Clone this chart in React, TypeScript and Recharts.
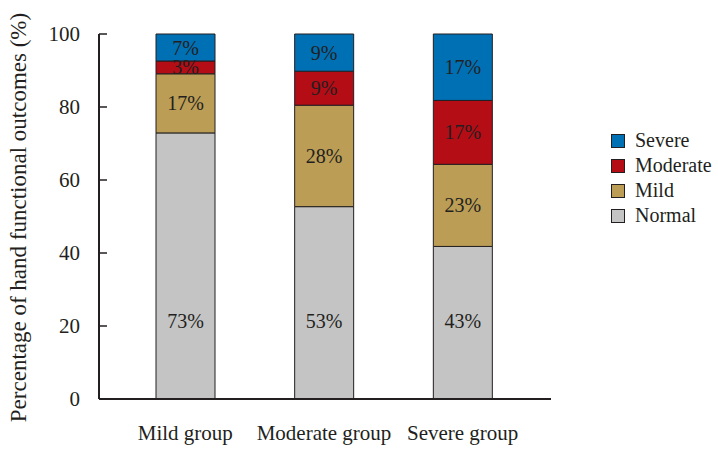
import { BarChart, Bar, XAxis, YAxis, Legend, LabelList } from "recharts";

const categories = ["Mild group", "Moderate group", "Severe group"];
const normal = [72.9, 52.7, 41.8];
const mild = [16.2, 27.8, 22.5];
const moderate = [3.5, 9.3, 17.5];
const severe = [7.4, 10.2, 18.2];

const normalLabels = ["73%", "53%", "43%"];
const mildLabels = ["17%", "28%", "23%"];
const moderateLabels = ["3%", "9%", "17%"];
const severeLabels = ["7%", "9%", "17%"];

const yTicks = [0, 20, 40, 60, 80, 100];

const COLORS = {
  severe: "#0070b5",
  moderate: "#b50d16",
  mild: "#bb9d55",
  normal: "#c4c4c4",
};

const INK = "#231f20";
const FONT = "'Liberation Serif', 'DejaVu Serif', serif";

const data = categories.map((name, i) => ({
  name,
  normal: normal[i],
  mild: mild[i],
  moderate: moderate[i],
  severe: severe[i],
  normalLabel: normalLabels[i],
  mildLabel: mildLabels[i],
  moderateLabel: moderateLabels[i],
  severeLabel: severeLabels[i],
}));

const legendItems = [
  { key: "severe", label: "Severe" },
  { key: "moderate", label: "Moderate" },
  { key: "mild", label: "Mild" },
  { key: "normal", label: "Normal" },
];

const LegendBox = () => (
  <div style={{ fontFamily: FONT, fontSize: 20, color: INK, textAlign: "left" }}>
    {legendItems.map((it) => (
      <div key={it.key} style={{ display: "flex", alignItems: "center", height: 25 }}>
        <span
          style={{
            display: "inline-block",
            width: 12,
            height: 12,
            background: COLORS[it.key as keyof typeof COLORS],
            border: `1px solid ${INK}`,
            marginRight: 10,
          }}
        />
        {it.label}
      </div>
    ))}
  </div>
);

const YLabel = ({ viewBox }: any) => {
  const cx = viewBox.x + 18;
  const cy = viewBox.y + viewBox.height / 2 + 1;
  return (
    <text
      x={cx}
      y={cy}
      transform={`rotate(-90, ${cx}, ${cy})`}
      textAnchor="middle"
      dominantBaseline="central"
      fill={INK}
      fontSize={23}
      fontFamily={FONT}
    >
      Percentage of hand functional outcomes (%)
    </text>
  );
};

const series = [
  { key: "normal", label: "normalLabel" },
  { key: "mild", label: "mildLabel" },
  { key: "moderate", label: "moderateLabel" },
  { key: "severe", label: "severeLabel" },
];

export default function App() {
  return (
    <div style={{ position: "absolute", left: 0, top: 0, background: "#fff" }}>
      <BarChart
        width={718}
        height={450}
        data={data}
        margin={{ top: 34, right: 167, bottom: 0, left: 0 }}
        style={{ fontFamily: FONT }}
      >
        <XAxis
          dataKey="name"
          height={51}
          padding={{ left: 17, right: 19 }}
          tickLine={false}
          tickSize={0}
          tickMargin={26}
          interval={0}
          axisLine={{ stroke: INK, strokeWidth: 2 }}
          tick={{ fill: INK, fontSize: 21, fontFamily: FONT }}
        />
        <YAxis
          width={99}
          domain={[0, 100]}
          ticks={yTicks}
          interval={0}
          tickSize={-8}
          tickMargin={27}
          axisLine={{ stroke: INK, strokeWidth: 2 }}
          tickLine={{ stroke: INK, strokeWidth: 1.5 }}
          tick={{ fill: INK, fontSize: 21, fontFamily: FONT }}
          label={<YLabel />}
        />
        <Legend
          layout="vertical"
          align="center"
          verticalAlign="middle"
          wrapperStyle={{ left: 611, top: 128, width: 110 }}
          content={<LegendBox />}
        />
        {series.map((s) => (
          <Bar
            key={s.key}
            dataKey={s.key}
            stackId="a"
            barSize={59}
            fill={COLORS[s.key as keyof typeof COLORS]}
            stroke={INK}
            strokeWidth={1}
            isAnimationActive={false}
          >
            {s.key === "normal" ? (
              <LabelList
                dataKey={s.label}
                position="insideBottom"
                offset={71}
                fill={INK}
                fontSize={20}
                fontFamily={FONT}
              />
            ) : (
              <LabelList
                dataKey={s.label}
                position="center"
                fill={INK}
                fontSize={20}
                fontFamily={FONT}
              />
            )}
          </Bar>
        ))}
      </BarChart>
    </div>
  );
}
